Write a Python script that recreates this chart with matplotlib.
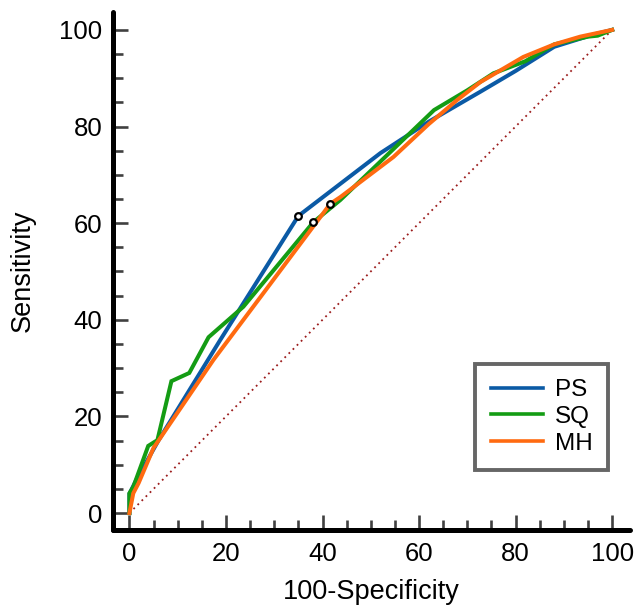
import matplotlib
matplotlib.use("Agg")
import matplotlib.pyplot as plt
from matplotlib.ticker import MultipleLocator

plt.rcParams["font.family"] = ["Liberation Sans", "DejaVu Sans"]

# ── data ──────────────────────────────────────────────────────
ps_x = [0, 0, 1.5, 6, 18.8, 35.0, 52, 62, 72.7, 80, 88, 96, 100]
ps_y = [0, 4, 7, 15, 35.8, 61.5, 74.5, 81, 87.2, 91.5, 96.5, 99, 100]

sq_x = [0, 0, 0.8, 3.9, 5.8, 8.7, 12.4, 16.4, 23.6, 38.1, 43.7, 63.1, 70, 75.4, 82, 88, 95, 97, 100]
sq_y = [0, 4.1, 5.4, 13.9, 15.1, 27.3, 29.0, 36.4, 42.7, 60.2, 64.8, 83.4, 87.5, 91.0, 93.5, 97, 98.6, 98.8, 100]

mh_x = [0, 0.8, 1.9, 5, 17.4, 41.6, 43.7, 54.7, 62, 67.9, 72.7, 81.6, 88, 93.4, 100]
mh_y = [0, 4.1, 6.2, 13.5, 31.7, 64.0, 65.4, 73.7, 80.5, 85.5, 89.2, 94.4, 97, 98.6, 100]

# criterion points (open circles)
crit_x = [35.0, 38.1, 41.6]
crit_y = [61.5, 60.2, 64.0]

labels = ["PS", "SQ", "MH"]
colors = ["#0b5aa5", "#149c14", "#ff6a10"]

# ── figure ───────────────────────────────────────────────────
W, H = 637, 606
fig = plt.figure(figsize=(W / 100, H / 100), dpi=100)
ax = fig.add_axes([113 / W, (H - 530) / H, (630 - 113) / W, (530 - 12) / H])

ax.plot([0, 100], [0, 100], linestyle=(0, (1, 2.2)), color="#9b1c1c", lw=1.3, zorder=1)

for xs, ys, lab, col in zip([ps_x, sq_x, mh_x], [ps_y, sq_y, mh_y], labels, colors):
    ax.plot(xs, ys, color=col, lw=2.9, label=lab, solid_joinstyle="miter", zorder=2)

ax.plot(crit_x, crit_y, linestyle="none", marker="o", ms=4.8, mfc="white",
        mec="black", mew=1.6, zorder=4)

ax.set_xlim(-3.4, 103.7)
ax.set_ylim(-3.5, 103.7)

ax.xaxis.set_major_locator(MultipleLocator(20))
ax.yaxis.set_major_locator(MultipleLocator(20))
ax.xaxis.set_minor_locator(MultipleLocator(5))
ax.yaxis.set_minor_locator(MultipleLocator(5))

ax.tick_params(which="both", direction="in", color="#404040", labelsize=18.5)
ax.tick_params(which="major", length=11, width=1.9, pad=7.5)
ax.tick_params(which="minor", length=7, width=1.9)
ax.tick_params(axis="x", pad=8.5)

for s in ["top", "right"]:
    ax.spines[s].set_visible(False)
for s in ["left", "bottom"]:
    ax.spines[s].set_linewidth(3.6)
    ax.spines[s].set_capstyle("round")

ax.set_xlabel("100-Specificity", fontsize=19.5, labelpad=9.5)
ax.set_ylabel("Sensitivity", fontsize=19.5, labelpad=17)

leg = ax.legend(loc="lower right", bbox_to_anchor=(0.957, 0.116), fontsize=17.5,
                frameon=True, fancybox=False, handlelength=2.15, handletextpad=0.5,
                labelspacing=0.2, borderpad=0.62, borderaxespad=0)
leg.get_frame().set_edgecolor("#404040")
leg.get_frame().set_linewidth(2.8)
for line in leg.get_lines():
    line.set_linewidth(2.6)

fig.savefig("out.png", dpi=100)
